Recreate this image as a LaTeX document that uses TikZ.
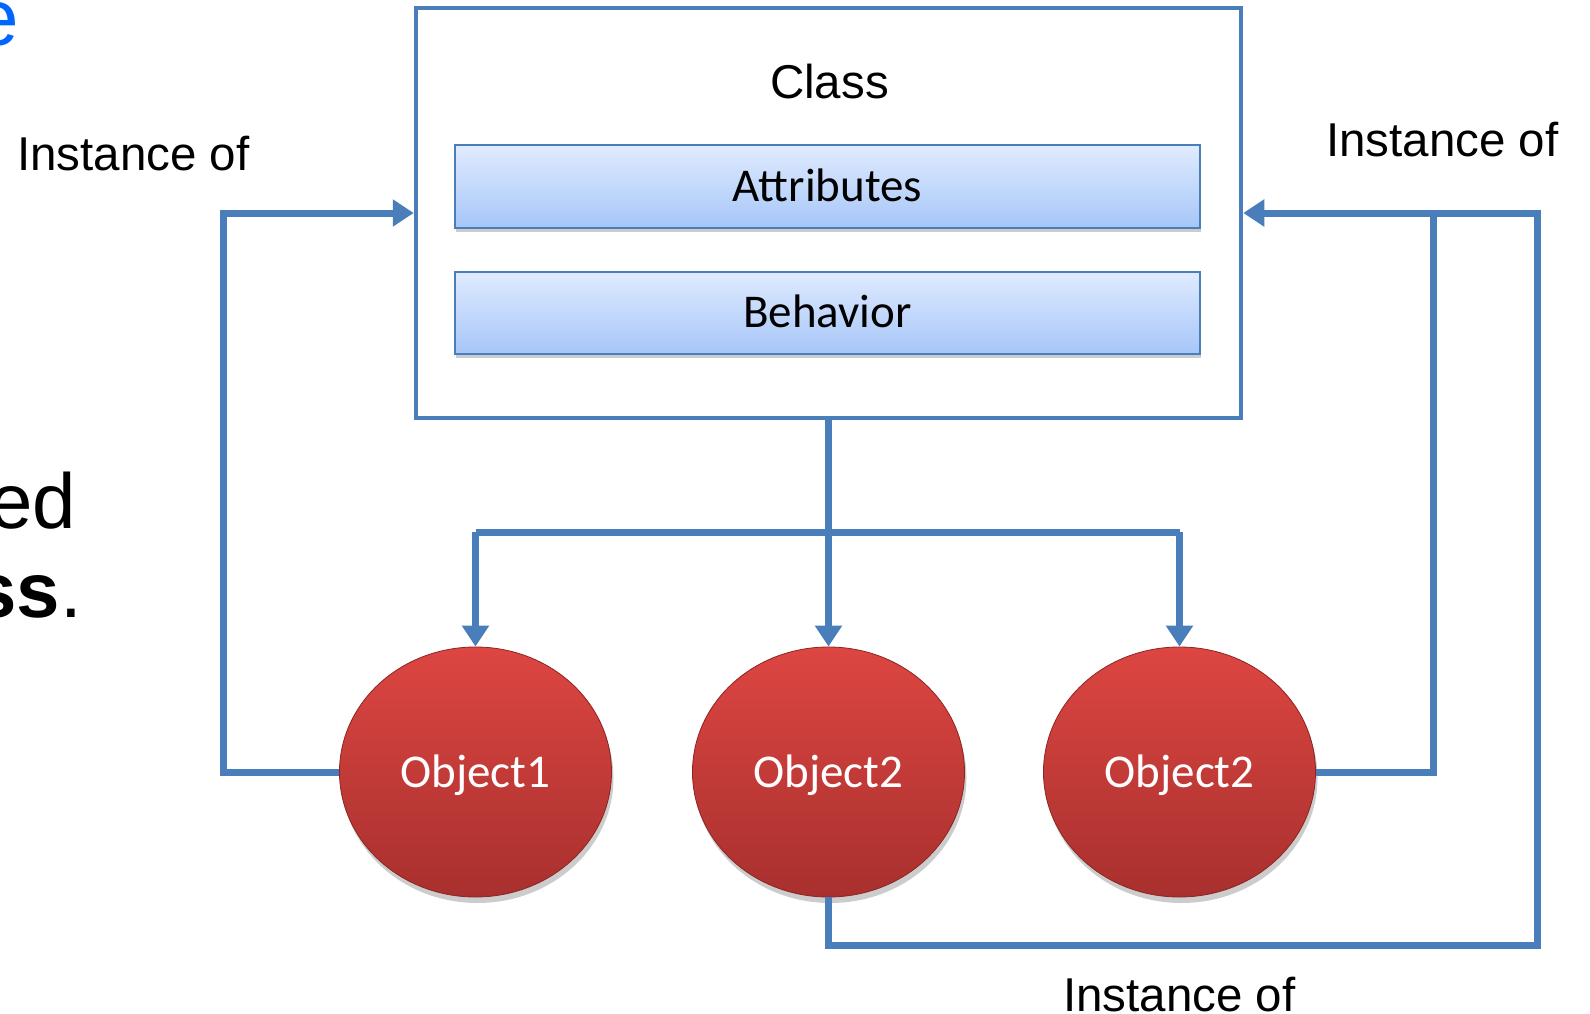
\documentclass[tikz,border=0pt]{standalone}
\usepackage{fontspec}
\setmainfont{Liberation Sans}
\newfontfamily\calib{Carlito}
\usetikzlibrary{arrows.meta,shapes.geometric,shadows}
\definecolor{lnblue}{RGB}{74,126,187}
\definecolor{boxtop}{RGB}{224,235,255}
\definecolor{boxbot}{RGB}{166,198,248}
\definecolor{redtop}{RGB}{221,70,66}
\definecolor{redbot}{RGB}{168,48,46}
\definecolor{redrim}{RGB}{140,36,34}
\definecolor{titleblue}{RGB}{0,102,255}
\begin{document}
\begin{tikzpicture}[x=1pt,y=-1pt,
 conn/.style={draw=lnblue, line width=7pt, line join=miter},
 tip/.style={-{Triangle[length=21pt,width=26pt]}},
 classbox/.style={draw=lnblue, line width=4.5pt, fill=white, minimum width=825pt, minimum height=410pt, inner sep=0pt},
 part/.style={draw=lnblue, line width=2pt, top color=boxtop, bottom color=boxbot, minimum width=745pt, minimum height=82pt, inner sep=0pt, font=\calib\fontsize{47}{56}\selectfont, text height=30pt, text depth=0pt, drop shadow={shadow xshift=1pt, shadow yshift=-4pt, opacity=0.2, fill=black}},
 obj/.style={ellipse, draw=redrim, line width=0.8pt, top color=redtop, bottom color=redbot, minimum width=272pt, minimum height=250pt, inner sep=0pt, text=white, font=\calib\fontsize{47}{56}\selectfont, text height=30pt, text depth=0pt, drop shadow={shadow xshift=2pt, shadow yshift=-6pt, opacity=0.2, fill=black}},
 lbl/.style={font=\fontsize{47.5}{56}\selectfont, inner sep=0pt, anchor=base west},
 frag/.style={font=\fontsize{78}{90}\selectfont, inner sep=0pt, anchor=base east}
]
\useasboundingbox (0,0) rectangle (1590,1014);
\fill[white] (0,0) rectangle (1590,1014);

% cut-off slide text
\node[frag, font=\fontsize{80}{90}\selectfont, text=titleblue] (tfrag) at (19,46) {e};
\node[frag] (frag1) at (76.5,528) {ed};
\node[frag] (frag2) at (82,617) {{\bfseries ss}.};

% class box
\node[classbox] (cls) at (828.5,213) {};
\node[lbl, anchor=base] (clsname) at (829.5,99) {Class};
\node[part] (attr) at (827.5,186.5) {Attributes};
\node[part] (beh) at (827.5,312.5) {Behavior};

% objects
\node[obj] (o1) at (475.5,772) {Object1};
\node[obj] (o2) at (828.5,772) {Object2};
\node[obj] (o3) at (1179.5,772) {Object2};

% class to objects
\coordinate (j) at (828.5,532);
\draw[conn] (o1.north |- j) -- (o3.north |- j);
\draw[conn,tip] (cls.south) -- (o2.north);
\draw[conn,tip] (o1.north |- j) -- (o1.north);
\draw[conn,tip] (o3.north |- j) -- (o3.north);

% instance-of loops
\coordinate (l1) at (223,213);
\coordinate (r1) at (1433,213);
\coordinate (r2) at (1537,945);
\draw[conn,tip] (o1.west) -| (l1) -- (l1 -| cls.west);
\draw[conn,tip] (o3.east) -| (r1) -- (r1 -| cls.east);
\draw[conn] (o2.south) |- (r2) |- (r1);

% labels
\node[lbl] (lab1) at (17,171) {Instance of};
\node[lbl] (lab2) at (1326,157) {Instance of};
\node[lbl] (lab3) at (1063,1011) {Instance of};
\end{tikzpicture}
\end{document}
